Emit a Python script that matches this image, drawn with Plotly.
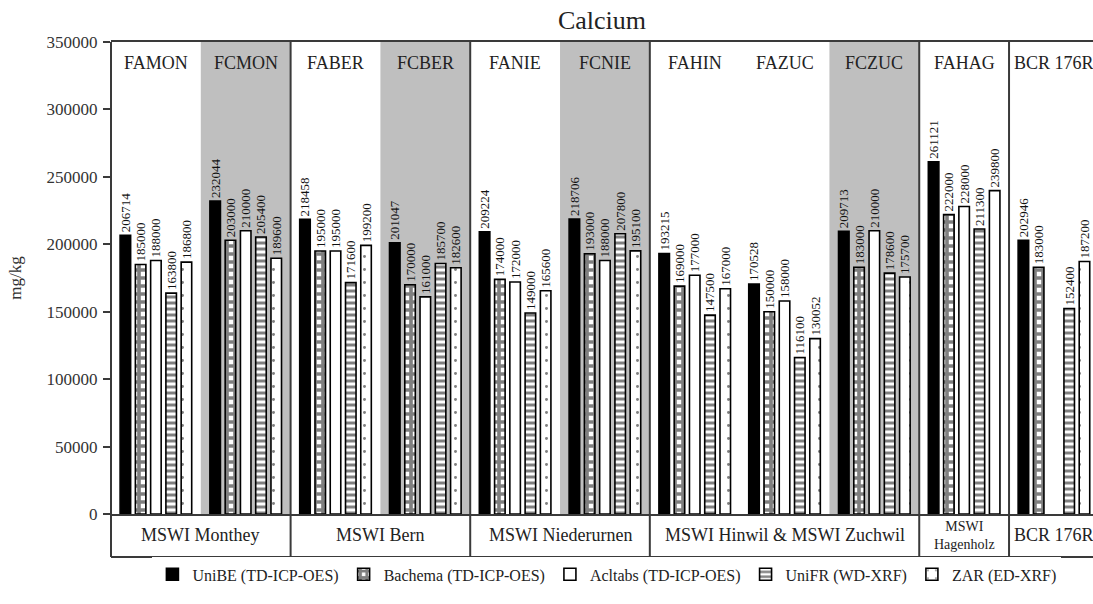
import plotly.graph_objects as go

# Sample codes (one slot each on the x axis)
samples = ["FAMON", "FCMON", "FABER", "FCBER", "FANIE", "FCNIE",
           "FAHIN", "FAZUC", "FCZUC", "FAHAG", "BCR 176R"]

# Calcium concentrations in mg/kg per laboratory / method
unibe   = [206714, 232044, 218458, 201047, 209224, 218706, 193215, 170528, 209713, 261121, 202946]
bachema = [185000, 203000, 195000, 170000, 174000, 193000, 169000, 150000, 183000, 222000, 183000]
acltabs = [188000, 210000, 195000, 161000, 172000, 188000, 177000, 158000, 210000, 228000, None]
unifr   = [163800, 205400, 171600, 185700, 149000, 207800, 147500, 116100, 178600, 211300, 152400]
zar     = [186800, 189600, 199200, 182600, 165600, 195100, 167000, 130052, 175700, 239800, 187200]

series_names = ["UniBE (TD-ICP-OES)", "Bachema (TD-ICP-OES)", "Acltabs (TD-ICP-OES)",
                "UniFR (WD-XRF)", "ZAR (ED-XRF)"]

# Sites grouping the samples: (label, first slot, last slot)
sites = [("MSWI Monthey", 0, 1), ("MSWI Bern", 2, 3), ("MSWI Niederurnen", 4, 5),
         ("MSWI Hinwil & MSWI Zuchwil", 6, 8), ("MSWI<br>Hagenholz", 9, 9), ("BCR 176R", 10, 10)]

# Samples drawn on a grey background
shaded = ["FCMON", "FCBER", "FCNIE", "FCZUC"]

SERIF = "Liberation Serif"
AXIS_COLOR = "#3a3a3a"
X_MIN, X_MAX = -0.5, 10.435
BOX_BOTTOM = -0.091  # paper y of the bottom edge of the site box


def px(xd):
    """Data x -> paper fraction."""
    return (xd - X_MIN) / (X_MAX - X_MIN)


styles = [
    dict(color="black", pattern=None),
    dict(color="white", pattern=dict(shape="+", fgcolor="black", bgcolor="white", size=8, solidity=0.7)),
    dict(color="white", pattern=None),
    dict(color="white", pattern=dict(shape="-", fgcolor="black", bgcolor="white", size=6, solidity=0.5)),
    dict(color="white", pattern=dict(shape=".", fgcolor="black", bgcolor="white", size=13, solidity=0.04)),
]

xs = list(range(len(samples)))
fig = go.Figure()
for name, vals, st in zip(series_names, [unibe, bachema, acltabs, unifr, zar], styles):
    marker = dict(color=st["color"], line=dict(color="black", width=1.6))
    if st["pattern"] is not None:
        marker["pattern"] = st["pattern"]
    fig.add_trace(go.Bar(
        x=xs, y=vals, name=name, marker=marker,
        text=[str(v) if v is not None else "" for v in vals],
        textposition="outside", textangle=-90, constraintext="none",
        textfont=dict(family=SERIF, size=13, color="#111"),
        cliponaxis=False,
    ))

shapes = []
# grey background for the shaded samples
for s in shaded:
    i = samples.index(s)
    shapes.append(dict(type="rect", xref="paper", yref="paper", x0=px(i - 0.5), x1=px(i + 0.5),
                       y0=0, y1=1, fillcolor="#bfbfbf", line=dict(width=0), layer="below"))
# left axis line and site separators, running down through the site box
for xd in [X_MIN] + [sites[k][1] - 0.5 for k in range(1, len(sites))]:
    shapes.append(dict(type="line", xref="paper", yref="paper", x0=px(xd), x1=px(xd),
                       y0=BOX_BOTTOM, y1=1, line=dict(color=AXIS_COLOR, width=2)))
# bottom edge of the site box
shapes.append(dict(type="line", xref="paper", yref="paper", x0=0, x1=1,
                   y0=BOX_BOTTOM, y1=BOX_BOTTOM, line=dict(color=AXIS_COLOR, width=2)))

annotations = []
for i, s in enumerate(samples):
    annotations.append(dict(x=i, xref="x", y=0.955, yref="paper", text=s, showarrow=False,
                            font=dict(family=SERIF, size=18, color="#222"), yanchor="middle"))
for label, a, b in sites:
    small = "<br>" in label
    annotations.append(dict(x=(a + b) / 2, xref="x", y=-0.045, yref="paper", text=label,
                            showarrow=False, yanchor="middle",
                            font=dict(family=SERIF, size=14 if small else 18, color="#222")))

fig.update_layout(
    width=1093, height=604, autosize=False,
    margin=dict(l=111, r=0, t=42, b=90),
    paper_bgcolor="white", plot_bgcolor="white",
    barmode="group", bargap=0.15, bargroupgap=0.31,
    title=dict(text="Calcium", x=(111 + 1093) / 2 / 1093, xanchor="center", y=0.967, yanchor="middle",
               font=dict(family=SERIF, size=26, color="#222")),
    xaxis=dict(range=[X_MIN, X_MAX], showticklabels=False, ticks="", showgrid=False, zeroline=False,
               showline=True, linecolor=AXIS_COLOR, linewidth=2, mirror=True),
    yaxis=dict(range=[0, 350000], dtick=50000, tickformat="d", ticks="outside", ticklen=7,
               tickcolor=AXIS_COLOR, tickwidth=1.5, showgrid=False, zeroline=False, showline=False,
               ticklabelstandoff=2,
               tickfont=dict(family=SERIF, size=17, color="#333"),
               title=dict(text="mg/kg", standoff=20, font=dict(family=SERIF, size=17, color="#333"))),
    legend=dict(orientation="h", x=0.505, xanchor="center", y=-0.128, yanchor="middle",
                font=dict(family=SERIF, size=16, color="#222"), itemwidth=30,
                traceorder="normal"),
    shapes=shapes, annotations=annotations,
)

fig.write_html("out.html")
